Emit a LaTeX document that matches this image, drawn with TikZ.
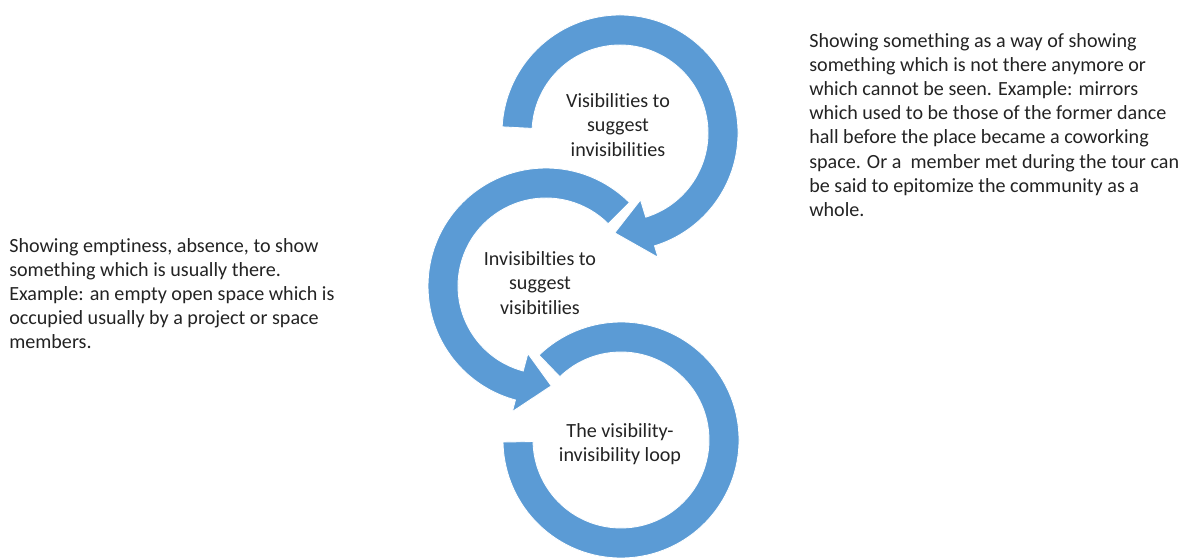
\documentclass[tikz,border=0pt]{standalone}
\usepackage{fontspec}
\setmainfont[Ligatures=NoCommon]{Carlito}
\usetikzlibrary{calc}
\definecolor{loopblue}{RGB}{91,155,213}
\definecolor{inkgray}{RGB}{35,35,35}
\begin{document}
\begin{tikzpicture}[x=0.025cm,y=0.025cm,
	ring/.style={fill=loopblue,draw=white,line width=0.6pt,line join=miter},
	looptext/.style={align=center,text=inkgray,font=\fontsize{14.3}{17.2}\selectfont},
	note/.style={align=left,anchor=north west,inner sep=0pt,text=inkgray,font=\fontsize{14.3}{17.2}\selectfont}]
		\useasboundingbox (0,0) rectangle (1194,558);

		\coordinate (ctop) at (620,425);
		\coordinate (cmid) at (546,272);
		\coordinate (cbot) at (621,118);

		\fill[ring] ($(ctop)+(177:118)$) arc [start angle=177, end angle=-73, radius=118]
			-- ($(ctop)+(-73:130)$) -- ($(ctop)+(-93:100)$) -- ($(ctop)+(-73:70)$)
			-- ($(ctop)+(-73:88)$) arc [start angle=-73, end angle=177, radius=88] -- cycle;

		\fill[ring] ($(cmid)+(45:118)$) arc [start angle=45, end angle=255, radius=118]
			-- ($(cmid)+(255:130)$) -- ($(cmid)+(273:100)$) -- ($(cmid)+(255:70)$)
			-- ($(cmid)+(255:88)$) arc [start angle=255, end angle=45, radius=88] -- cycle;

		\fill[ring] ($(cbot)+(181:118)$) arc [start angle=181, end angle=494, radius=118]
			-- ($(cbot)+(134:88)$) arc [start angle=494, end angle=181, radius=88] -- cycle;

		\node[looptext] (vis)   at (618,433) {Visibilities to\\suggest\\invisibilities};
		\node[looptext] (invis) at (540,275) {Invisibilties to\\suggest\\visibitilies};
		\node[looptext] (loop)  at (620,114) {The visibility-\\invisibility loop};

		\node[note] (shownote) at (809,525) {Showing something as a way of showing\\
			something which is not there anymore or\\
			which cannot be seen. Example: mirrors\\
			which used to be those of the former dance\\
			hall before the place became a coworking\\
			space. Or a~ member met during the tour can\\
			be said to epitomize the community as a\\
			whole.};
		\node[note] (emptynote) at (9,320) {Showing emptiness, absence, to show\\
			something which is usually there.\\
			Example: an empty open space which is\\
			occupied usually by a project or space\\
			members.};
	\end{tikzpicture}
\end{document}
